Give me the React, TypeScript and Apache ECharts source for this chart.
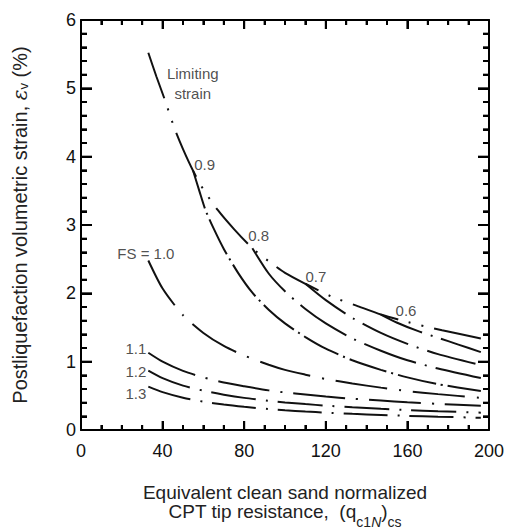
import React, { useEffect, useRef } from "react";
import * as echarts from "echarts";

const FONT = "'Liberation Sans', Arial, Helvetica, sans-serif";

// Axes
const X_MIN = 0;
const X_MAX = 200;
const X_STEP = 40;
const Y_MIN = 0;
const Y_MAX = 6;
const Y_STEP = 1;

// Tick marks (drawn inside the frame on all four sides)
const xTicks = [0, 10, 20, 30, 40, 50, 60, 70, 80, 90, 100, 110, 120, 130, 140, 150, 160, 170, 180, 190, 200];
const xMajorTicks = [0, 40, 80, 120, 160, 200];
const yTicks = [0, 0.2, 0.4, 0.6, 0.8, 1, 1.2, 1.4, 1.6, 1.8, 2, 2.2, 2.4, 2.6, 2.8, 3, 3.2, 3.4, 3.6, 3.8, 4, 4.2, 4.4, 4.6, 4.8, 5, 5.2, 5.4, 5.6, 5.8, 6];
const yMajorTicks = [0, 1, 2, 3, 4, 5, 6];

// Limiting strain (upper envelope)
const limitX = [33, 37, 41, 46, 50, 55, 60, 67, 75, 84, 92, 100, 110, 123, 135, 147, 160, 177, 196];
const limitY = [5.52, 5.17, 4.84, 4.4, 4.11, 3.79, 3.52, 3.22, 2.94, 2.66, 2.47, 2.3, 2.14, 1.95, 1.82, 1.69, 1.58, 1.46, 1.34];

// FS = 0.9 .. 0.6 (parts leaving the envelope)
const fs09X = [55, 58, 61, 65, 70, 77, 84, 92, 100, 110, 120, 133, 147, 160, 175, 196];
const fs09Y = [3.79, 3.5, 3.22, 2.95, 2.65, 2.3, 2.01, 1.76, 1.56, 1.36, 1.19, 1.02, 0.88, 0.77, 0.67, 0.57];
const fs08X = [84, 92, 100, 110, 120, 133, 147, 160, 175, 196];
const fs08Y = [2.66, 2.29, 2.03, 1.77, 1.56, 1.34, 1.16, 1.02, 0.9, 0.76];
const fs07X = [110, 120, 133, 147, 160, 175, 196];
const fs07Y = [2.14, 1.9, 1.64, 1.42, 1.26, 1.11, 0.95];
const fs06X = [147, 155, 165, 175, 185, 196];
const fs06Y = [1.69, 1.57, 1.45, 1.35, 1.25, 1.14];

// FS = 1.0 .. 1.3
const qX = [33, 40, 50, 60, 70, 80, 92, 100, 110, 120, 133, 147, 160, 175, 196];
const fs10Y = [2.48, 2.07, 1.68, 1.42, 1.23, 1.09, 0.955, 0.88, 0.81, 0.746, 0.68, 0.62, 0.57, 0.525, 0.47];
const fs11Y = [1.13, 1.0, 0.865, 0.77, 0.695, 0.64, 0.58, 0.55, 0.52, 0.49, 0.458, 0.43, 0.406, 0.383, 0.356];
const fs12Y = [0.87, 0.76, 0.65, 0.575, 0.517, 0.47, 0.428, 0.404, 0.379, 0.357, 0.332, 0.31, 0.292, 0.275, 0.254];
const fs13Y = [0.634, 0.554, 0.472, 0.415, 0.372, 0.339, 0.306, 0.289, 0.27, 0.254, 0.236, 0.22, 0.207, 0.194, 0.179];

// Curve labels (data coordinates)
const labelNames = ["Limiting\nstrain", "0.9", "0.8", "0.7", "0.6", "FS = 1.0", "1.1", "1.2", "1.3"];
const labelX = [54.8, 60.6, 87.1, 115.1, 159.3, 31.8, 26.9, 26.9, 26.9];
const labelY = [5.07, 3.88, 2.84, 2.25, 1.75, 2.59, 1.2, 0.86, 0.53];

const curves = [
  { name: "Limiting strain", x: limitX, y: limitY, dash: [48, 11, 2, 11, 2, 11] },
  { name: "FS = 0.9", x: fs09X, y: fs09Y, dash: [39, 5, 2, 5] },
  { name: "FS = 0.8", x: fs08X, y: fs08Y, dash: [55, 9, 2, 9] },
  { name: "FS = 0.7", x: fs07X, y: fs07Y, dash: [50, 9, 2, 9] },
  { name: "FS = 0.6", x: fs06X, y: fs06Y, dash: [45, 9, 2, 9] },
  { name: "FS = 1.0", x: qX, y: fs10Y, dash: [52, 12, 2, 12] },
  { name: "FS = 1.1", x: qX, y: fs11Y, dash: [52, 11, 2, 11] },
  { name: "FS = 1.2", x: qX, y: fs12Y, dash: [45, 10, 2, 10] },
  { name: "FS = 1.3", x: qX, y: fs13Y, dash: [44, 10, 2, 10] },
];

function plainAxis(kind: "x" | "y", position: string, labels: boolean) {
  const isX = kind === "x";
  return {
    type: "value",
    position,
    min: isX ? X_MIN : Y_MIN,
    max: isX ? X_MAX : Y_MAX,
    interval: isX ? X_STEP : Y_STEP,
    axisLine: { show: true, onZero: false, lineStyle: { color: "#000", width: 2 } },
    axisTick: { show: true, inside: true, length: isX ? 9 : 11, lineStyle: { color: "#000", width: 2 } },
    minorTick: { show: true, splitNumber: isX ? 4 : 5, length: isX ? 5 : 6, lineStyle: { color: "#000", width: 2 } },
    splitLine: { show: false },
    axisLabel: { show: labels, color: "#111", fontSize: 18, margin: isX ? 12 : 5, fontFamily: FONT },
  };
}

export default function App() {
  const ref = useRef<HTMLDivElement>(null);
  useEffect(() => {
    if (!ref.current) return;
    const chart = echarts.init(ref.current, null, { renderer: "svg" });

    const xMain: any = plainAxis("x", "bottom", true);
    xMain.name = "Equivalent clean sand normalized\n{m|CPT tip resistance,  (q}{s|c1}{si|N}{m|)}{s|cs}";
    xMain.nameLocation = "middle";
    xMain.nameGap = 52;
    xMain.nameTextStyle = {
      color: "#222",
      fontSize: 19,
      lineHeight: 20,
      fontFamily: FONT,
      rich: {
        m: { fontSize: 19, lineHeight: 20, verticalAlign: "top", fontFamily: FONT, color: "#222" },
        s: { fontSize: 14, lineHeight: 14, verticalAlign: "top", padding: [13, 0, 0, 0], fontFamily: FONT, color: "#222" },
        si: { fontSize: 14, lineHeight: 14, verticalAlign: "top", padding: [13, 0, 0, 0], fontStyle: "italic", fontFamily: FONT, color: "#222" },
      },
    };
    const yMain: any = plainAxis("y", "left", true);
    yMain.name = "{m|Postliquefaction volumetric strain, }{e|ε}{v|v}{m| (%)}";
    yMain.nameLocation = "middle";
    yMain.nameRotate = 90;
    yMain.nameGap = 51;
    yMain.nameTextStyle = {
      color: "#222",
      fontSize: 20,
      fontFamily: FONT,
      rich: {
        m: { fontSize: 20, lineHeight: 20, fontFamily: FONT, color: "#222" },
        e: { fontSize: 20, lineHeight: 20, fontFamily: "'DejaVu Serif', serif", fontStyle: "italic", color: "#222" },
        v: { fontSize: 13, lineHeight: 12, verticalAlign: "bottom", padding: [6, 0, 0, 0], fontFamily: FONT, color: "#222" },
      },
    };

    const series: any[] = curves.map((c) => ({
      name: c.name,
      type: "line",
      xAxisIndex: 0,
      yAxisIndex: 0,
      data: c.x.map((v, i) => [v, c.y[i]]),
      symbol: "none",
      showSymbol: false,
      smooth: 0.25,
      silent: true,
      lineStyle: { color: "#111", width: 2, type: c.dash },
      z: 3,
    }));

    series.push({
      name: "labels",
      type: "scatter",
      xAxisIndex: 0,
      yAxisIndex: 0,
      symbolSize: 1,
      itemStyle: { color: "rgba(0,0,0,0)" },
      silent: true,
      data: labelNames.map((n, i) => ({ name: n, value: [labelX[i], labelY[i]] })),
      label: {
        show: true,
        position: "inside",
        formatter: "{b}",
        fontSize: 15,
        lineHeight: 20,
        align: "center",
        color: "#222",
        fontFamily: FONT,
      },
      z: 4,
    });

    chart.setOption({
      animation: false,
      backgroundColor: "#fff",
      textStyle: { fontFamily: FONT },
      grid: { left: 81, right: 16, top: 20, bottom: 100, containLabel: false, outerBoundsMode: "none" },
      xAxis: [xMain, plainAxis("x", "top", false)],
      yAxis: [yMain, plainAxis("y", "right", false)],
      series,
    } as any);

    // Tick marks placed through the chart's own scales
    const toPx = (p: number[]) => chart.convertToPixel({ xAxisIndex: 0, yAxisIndex: 0 } as any, p) as number[];
    const els: any[] = [];
    const tick = (x: number, y: number, w: number, h: number) =>
      els.push({ type: "rect", silent: true, z: 100, shape: { x, y, width: w, height: h }, style: { fill: "#000" } });
    xTicks.forEach((v) => {
      const L = xMajorTicks.indexOf(v) >= 0 ? 9 : 5;
      const b = toPx([v, Y_MIN]);
      const t = toPx([v, Y_MAX]);
      tick(b[0] - 1, b[1] - L, 2, L);
      tick(t[0] - 1, t[1], 2, L);
    });
    yTicks.forEach((v) => {
      const L = yMajorTicks.indexOf(v) >= 0 ? 11 : 6;
      const l = toPx([X_MIN, v]);
      const r = toPx([X_MAX, v]);
      tick(l[0], l[1] - 1, L, 2);
      tick(r[0] - L, r[1] - 1, L, 2);
    });
    chart.setOption({ graphic: { elements: els } } as any);

    return () => chart.dispose();
  }, []);
  return (
    <div
      ref={ref}
      style={{ width: 505, height: 530, position: "fixed", left: 0, top: 0, background: "#fff" }}
    />
  );
}
